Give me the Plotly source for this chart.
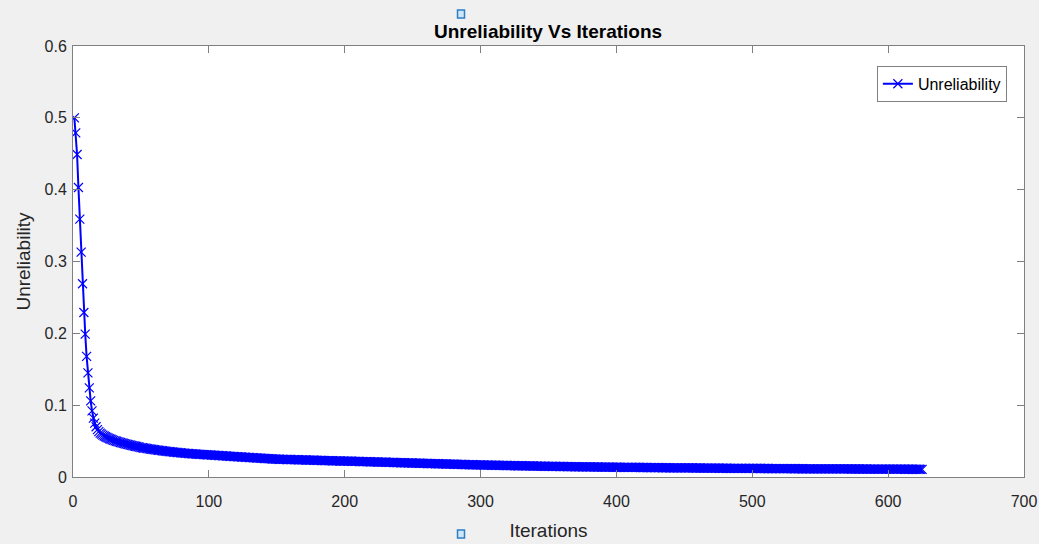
import plotly.graph_objects as go

iterations = list(range(1, 626))

unreliability = [
    0.5000, 0.4790, 0.4490, 0.4030, 0.3590, 0.3130, 0.2690, 0.2290, 0.1990, 0.1680,
    0.1450, 0.1240, 0.1060, 0.0920, 0.0820, 0.0750, 0.0700, 0.0660, 0.0632, 0.0610,
    0.0596, 0.0583, 0.0571, 0.0560, 0.0550, 0.0541, 0.0533, 0.0525, 0.0517, 0.0510,
    0.0504, 0.0498, 0.0492, 0.0486, 0.0480, 0.0475, 0.0470, 0.0465, 0.0460, 0.0455,
    0.0450, 0.0446, 0.0441, 0.0437, 0.0432, 0.0428, 0.0424, 0.0420, 0.0415, 0.0410,
    0.0407, 0.0404, 0.0401, 0.0398, 0.0395, 0.0392, 0.0389, 0.0386, 0.0383, 0.0380,
    0.0377, 0.0375, 0.0372, 0.0370, 0.0367, 0.0365, 0.0362, 0.0360, 0.0357, 0.0355,
    0.0353, 0.0351, 0.0349, 0.0347, 0.0345, 0.0343, 0.0341, 0.0339, 0.0337, 0.0335,
    0.0333, 0.0332, 0.0330, 0.0329, 0.0327, 0.0326, 0.0324, 0.0323, 0.0321, 0.0320,
    0.0319, 0.0317, 0.0316, 0.0315, 0.0314, 0.0312, 0.0311, 0.0310, 0.0309, 0.0308,
    0.0307, 0.0305, 0.0304, 0.0303, 0.0302, 0.0300, 0.0299, 0.0298, 0.0297, 0.0296,
    0.0294, 0.0293, 0.0292, 0.0291, 0.0289, 0.0288, 0.0287, 0.0285, 0.0284, 0.0283,
    0.0282, 0.0281, 0.0280, 0.0278, 0.0277, 0.0276, 0.0275, 0.0274, 0.0273, 0.0271,
    0.0270, 0.0269, 0.0268, 0.0267, 0.0265, 0.0264, 0.0263, 0.0262, 0.0261, 0.0259,
    0.0258, 0.0257, 0.0256, 0.0255, 0.0254, 0.0252, 0.0251, 0.0250, 0.0249, 0.0248,
    0.0247, 0.0247, 0.0246, 0.0246, 0.0245, 0.0245, 0.0244, 0.0244, 0.0243, 0.0243,
    0.0242, 0.0242, 0.0241, 0.0241, 0.0240, 0.0240, 0.0239, 0.0239, 0.0238, 0.0238,
    0.0237, 0.0237, 0.0236, 0.0236, 0.0235, 0.0234, 0.0234, 0.0233, 0.0233, 0.0232,
    0.0232, 0.0231, 0.0230, 0.0230, 0.0229, 0.0229, 0.0228, 0.0227, 0.0227, 0.0226,
    0.0226, 0.0225, 0.0225, 0.0224, 0.0224, 0.0223, 0.0223, 0.0222, 0.0222, 0.0222,
    0.0221, 0.0221, 0.0220, 0.0220, 0.0219, 0.0219, 0.0218, 0.0218, 0.0217, 0.0217,
    0.0216, 0.0215, 0.0215, 0.0214, 0.0214, 0.0213, 0.0213, 0.0212, 0.0212, 0.0211,
    0.0211, 0.0210, 0.0209, 0.0209, 0.0208, 0.0208, 0.0207, 0.0207, 0.0206, 0.0206,
    0.0205, 0.0204, 0.0204, 0.0203, 0.0203, 0.0202, 0.0202, 0.0201, 0.0201, 0.0200,
    0.0199, 0.0199, 0.0198, 0.0198, 0.0197, 0.0197, 0.0196, 0.0196, 0.0195, 0.0195,
    0.0194, 0.0193, 0.0193, 0.0192, 0.0192, 0.0191, 0.0191, 0.0190, 0.0190, 0.0189,
    0.0188, 0.0188, 0.0187, 0.0187, 0.0186, 0.0186, 0.0185, 0.0185, 0.0184, 0.0184,
    0.0183, 0.0182, 0.0182, 0.0181, 0.0181, 0.0180, 0.0180, 0.0179, 0.0179, 0.0178,
    0.0177, 0.0177, 0.0176, 0.0176, 0.0175, 0.0175, 0.0174, 0.0174, 0.0173, 0.0173,
    0.0172, 0.0171, 0.0171, 0.0170, 0.0170, 0.0169, 0.0169, 0.0168, 0.0168, 0.0168,
    0.0167, 0.0167, 0.0166, 0.0166, 0.0166, 0.0165, 0.0165, 0.0164, 0.0164, 0.0164,
    0.0163, 0.0163, 0.0162, 0.0162, 0.0162, 0.0161, 0.0161, 0.0160, 0.0160, 0.0160,
    0.0159, 0.0159, 0.0158, 0.0158, 0.0158, 0.0157, 0.0157, 0.0157, 0.0156, 0.0156,
    0.0156, 0.0155, 0.0155, 0.0154, 0.0154, 0.0154, 0.0153, 0.0153, 0.0153, 0.0152,
    0.0152, 0.0152, 0.0151, 0.0151, 0.0151, 0.0150, 0.0150, 0.0150, 0.0149, 0.0149,
    0.0149, 0.0148, 0.0148, 0.0148, 0.0147, 0.0147, 0.0147, 0.0146, 0.0146, 0.0146,
    0.0146, 0.0145, 0.0145, 0.0145, 0.0144, 0.0144, 0.0144, 0.0144, 0.0143, 0.0143,
    0.0143, 0.0142, 0.0142, 0.0142, 0.0142, 0.0141, 0.0141, 0.0141, 0.0141, 0.0140,
    0.0140, 0.0140, 0.0140, 0.0139, 0.0139, 0.0139, 0.0139, 0.0138, 0.0138, 0.0138,
    0.0138, 0.0138, 0.0137, 0.0137, 0.0137, 0.0137, 0.0137, 0.0136, 0.0136, 0.0136,
    0.0136, 0.0136, 0.0135, 0.0135, 0.0135, 0.0135, 0.0135, 0.0134, 0.0134, 0.0134,
    0.0134, 0.0134, 0.0133, 0.0133, 0.0133, 0.0133, 0.0133, 0.0132, 0.0132, 0.0132,
    0.0132, 0.0132, 0.0131, 0.0131, 0.0131, 0.0131, 0.0131, 0.0130, 0.0130, 0.0130,
    0.0130, 0.0130, 0.0130, 0.0129, 0.0129, 0.0129, 0.0129, 0.0129, 0.0128, 0.0128,
    0.0128, 0.0128, 0.0128, 0.0128, 0.0127, 0.0127, 0.0127, 0.0127, 0.0127, 0.0127,
    0.0126, 0.0126, 0.0126, 0.0126, 0.0126, 0.0126, 0.0125, 0.0125, 0.0125, 0.0125,
    0.0125, 0.0125, 0.0124, 0.0124, 0.0124, 0.0124, 0.0124, 0.0124, 0.0123, 0.0123,
    0.0123, 0.0123, 0.0123, 0.0123, 0.0123, 0.0122, 0.0122, 0.0122, 0.0122, 0.0122,
    0.0122, 0.0122, 0.0121, 0.0121, 0.0121, 0.0121, 0.0121, 0.0121, 0.0121, 0.0120,
    0.0120, 0.0120, 0.0120, 0.0120, 0.0120, 0.0120, 0.0119, 0.0119, 0.0119, 0.0119,
    0.0119, 0.0119, 0.0119, 0.0119, 0.0118, 0.0118, 0.0118, 0.0118, 0.0118, 0.0118,
    0.0118, 0.0118, 0.0117, 0.0117, 0.0117, 0.0117, 0.0117, 0.0117, 0.0117, 0.0117,
    0.0116, 0.0116, 0.0116, 0.0116, 0.0116, 0.0116, 0.0116, 0.0116, 0.0116, 0.0115,
    0.0115, 0.0115, 0.0115, 0.0115, 0.0115, 0.0115, 0.0115, 0.0115, 0.0114, 0.0114,
    0.0114, 0.0114, 0.0114, 0.0114, 0.0114, 0.0114, 0.0114, 0.0114, 0.0113, 0.0113,
    0.0113, 0.0113, 0.0113, 0.0113, 0.0113, 0.0113, 0.0113, 0.0113, 0.0113, 0.0112,
    0.0112, 0.0112, 0.0112, 0.0112, 0.0112, 0.0112, 0.0112, 0.0112, 0.0112, 0.0112,
    0.0112, 0.0111, 0.0111, 0.0111, 0.0111, 0.0111, 0.0111, 0.0111, 0.0111, 0.0111,
    0.0111, 0.0111, 0.0111, 0.0111, 0.0110, 0.0110, 0.0110, 0.0110, 0.0110, 0.0110,
    0.0110, 0.0110, 0.0110, 0.0110, 0.0110, 0.0110, 0.0110, 0.0110, 0.0109, 0.0109,
    0.0109, 0.0109, 0.0109, 0.0109, 0.0109, 0.0109, 0.0109, 0.0109, 0.0109, 0.0109,
    0.0109, 0.0108, 0.0108, 0.0108, 0.0108, 0.0108, 0.0108, 0.0108, 0.0108, 0.0108,
    0.0108, 0.0108, 0.0108, 0.0107, 0.0107,
]

x_ticks = [0, 100, 200, 300, 400, 500, 600, 700]
y_ticks = [0, 0.1, 0.2, 0.3, 0.4, 0.5, 0.6]

FONT = "Liberation Sans, Arial, Helvetica, sans-serif"
AXIS_GRAY = "#808080"
TEXT = "#262626"

fig = go.Figure()
fig.add_trace(go.Scatter(
    x=iterations,
    y=unreliability,
    mode="lines+markers",
    name="Unreliability",
    line=dict(color="#0000ff", width=2),
    marker=dict(symbol="x-thin", size=9, line=dict(color="#0000ff", width=1.2), color="#0000ff"),
))

axis_common = dict(
    showline=True, linecolor=AXIS_GRAY, linewidth=1, mirror="allticks",
    ticks="inside", ticklen=7, tickcolor=AXIS_GRAY, tickwidth=1,
    showgrid=False, zeroline=False, automargin=False,
    tickfont=dict(family=FONT, size=16, color=TEXT),
)

fig.update_xaxes(range=[0, 700], tickvals=x_ticks, ticklabelstandoff=10,
                 title=dict(text="Iterations", font=dict(family=FONT, size=19, color=TEXT), standoff=14),
                 **axis_common)
fig.update_yaxes(range=[0, 0.6], tickvals=y_ticks, ticklabelstandoff=2,
                 title=dict(text="Unreliability", font=dict(family=FONT, size=19, color=TEXT), standoff=8),
                 **axis_common)

square = dict(type="rect", xref="paper", yref="paper", xsizemode="pixel", ysizemode="pixel",
              x0=-3.5, x1=3.5, y0=-4, y1=4, fillcolor="#cfe6f7",
              line=dict(color="#2a7fc9", width=1.5))

fig.update_layout(
    width=1039, height=544,
    margin=dict(l=73, r=15, t=46, b=67),
    paper_bgcolor="#f0f0f0",
    plot_bgcolor="#ffffff",
    title=dict(text="<b>Unreliability Vs Iterations</b>", x=0.5275, xanchor="center",
               y=0.943, yanchor="middle",
               font=dict(family=FONT, size=19, color="#000000")),
    showlegend=True,
    legend=dict(x=0.982, xanchor="right", y=0.954, yanchor="top",
                bgcolor="#ffffff", bordercolor=AXIS_GRAY, borderwidth=1,
                font=dict(family=FONT, size=16, color="#000000"),
                itemwidth=30, tracegroupgap=0),
    shapes=[
        dict(square, xanchor=0.408, yanchor=1.074),
        dict(square, xanchor=0.408, yanchor=-0.132),
    ],
)

fig.write_html("out.html")
